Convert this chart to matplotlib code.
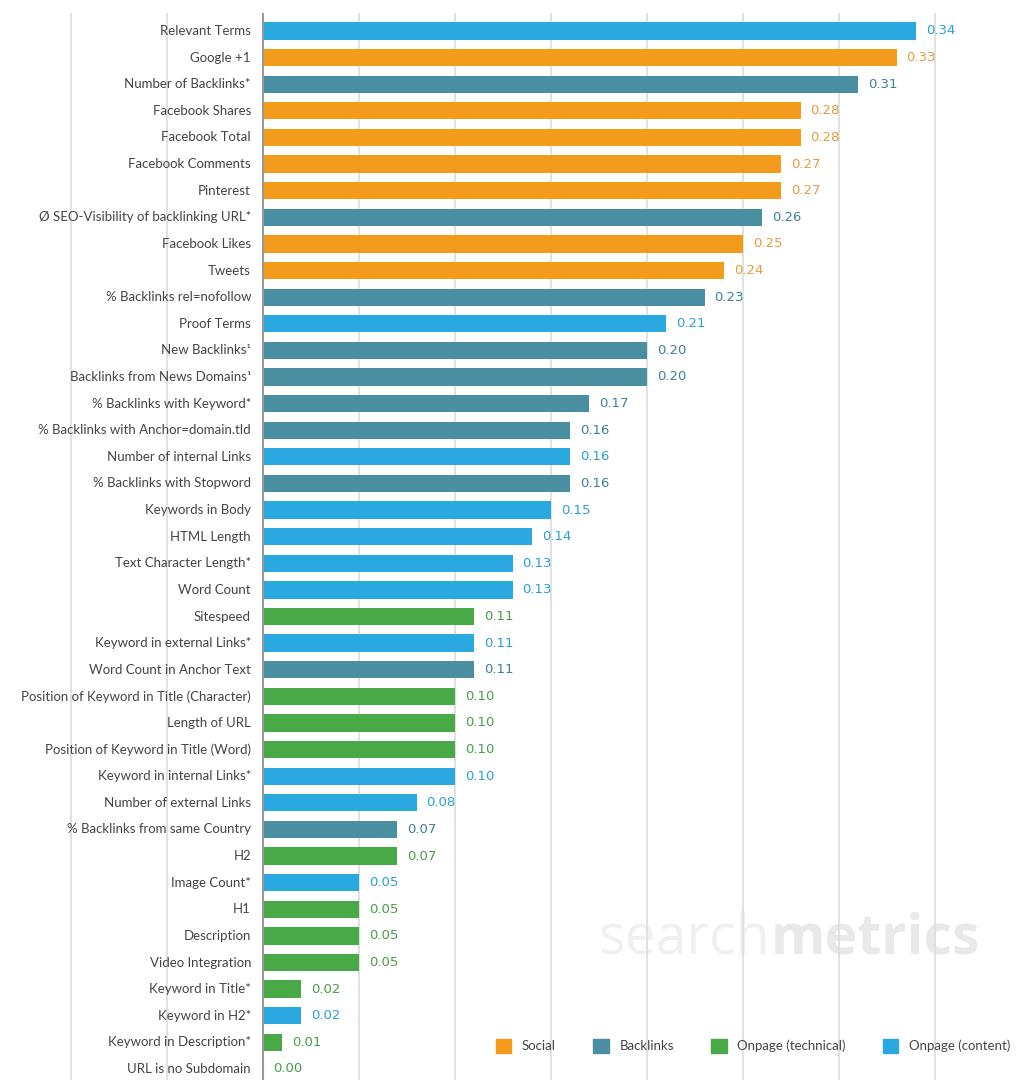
import matplotlib.pyplot as plt
from matplotlib.patches import Patch

plt.rcParams['font.family'] = ['Lato', 'DejaVu Sans']

labels = ["Relevant Terms", "Google +1", "Number of Backlinks*", "Facebook Shares",
          "Facebook Total", "Facebook Comments", "Pinterest",
          "Ø SEO-Visibility of backlinking URL*", "Facebook Likes", "Tweets",
          "% Backlinks rel=nofollow", "Proof Terms", "New Backlinks¹",
          "Backlinks from News Domains¹", "% Backlinks with Keyword*",
          "% Backlinks with Anchor=domain.tld", "Number of internal Links",
          "% Backlinks with Stopword", "Keywords in Body", "HTML Length",
          "Text Character Length*", "Word Count", "Sitespeed",
          "Keyword in external Links*", "Word Count in Anchor Text",
          "Position of Keyword in Title (Character)", "Length of URL",
          "Position of Keyword in Title (Word)", "Keyword in internal Links*",
          "Number of external Links", "% Backlinks from same Country", "H2",
          "Image Count*", "H1", "Description", "Video Integration",
          "Keyword in Title*", "Keyword in H2*", "Keyword in Description*",
          "URL is no Subdomain"]
values = [0.34, 0.33, 0.31, 0.28, 0.28, 0.27, 0.27, 0.26, 0.25, 0.24,
          0.23, 0.21, 0.20, 0.20, 0.17, 0.16, 0.16, 0.16, 0.15, 0.14,
          0.13, 0.13, 0.11, 0.11, 0.11, 0.10, 0.10, 0.10, 0.10, 0.08,
          0.07, 0.07, 0.05, 0.05, 0.05, 0.05, 0.02, 0.02, 0.01, 0.00]
groups = ["C", "S", "B", "S", "S", "S", "S", "B", "S", "S",
          "B", "C", "B", "B", "B", "B", "C", "B", "C", "C",
          "C", "C", "T", "C", "B", "T", "T", "T", "C", "C",
          "B", "T", "C", "T", "T", "T", "T", "C", "T", "T"]

bar_col = {"S": "#f39c1c", "B": "#4a8ea2", "T": "#4aa947", "C": "#29a9e0"}
txt_col = {"S": "#e8993e", "B": "#3f8194", "T": "#47a045", "C": "#2a9fd8"}
legend_names = [("S", "Social"), ("B", "Backlinks"), ("T", "Onpage (technical)"),
                ("C", "Onpage (content)")]

W, H = 1017, 1080
fig = plt.figure(figsize=(W / 100, H / 100), dpi=100)
ax = fig.add_axes([0, 0, 1, (H - 13) / H])

scale = 1920.0  # px per unit
x0 = 263
ax.set_xlim(-x0 / scale, (W - x0) / scale)
step = 26.615
ax.set_ylim((H - 31) / step, -18 / step)
ax.axis('off')

# watermark
ax.text((598 - x0) / scale, 34.1, "search", fontsize=40, color="#f0f0f0", ha='left',
        va='center', family='Open Sans', zorder=0)
ax.text((771 - x0) / scale, 34.1, "metrics", fontsize=40, color="#e9e9e9", ha='left',
        va='center', family='Open Sans', fontweight='bold', zorder=0)

for g in [-0.10, -0.05, 0.05, 0.10, 0.15, 0.20, 0.25, 0.30, 0.35]:
    ax.axvline(g, color="#dedede", lw=1.3, zorder=1)
ax.axvline(0, color="#9a9a9a", lw=1.5, zorder=3)

ys = list(range(len(labels)))
ax.barh(ys, values, height=0.65, color=[bar_col[g] for g in groups], zorder=2)

for y, lab, v, g in zip(ys, labels, values, groups):
    ax.text(-12 / scale, y, lab, ha='right', va='center', fontsize=9.5,
            color="#444444", zorder=4)
    ax.text(v + 10 / scale, y, "%.2f" % v, ha='left', va='center', fontsize=9.5,
            color=txt_col[g], family='DejaVu Sans', zorder=4)

handles = [Patch(color=bar_col[k], label=n) for k, n in legend_names]
fig.legend(handles=handles, loc='center', bbox_to_anchor=(753 / W, 1 - 1046 / H),
           ncol=4, frameon=False, fontsize=9.5, handlelength=1.2, handleheight=1.2,
           columnspacing=2.8, handletextpad=0.8, labelcolor="#444444")

fig.savefig("out.png", dpi=100, facecolor='white')
